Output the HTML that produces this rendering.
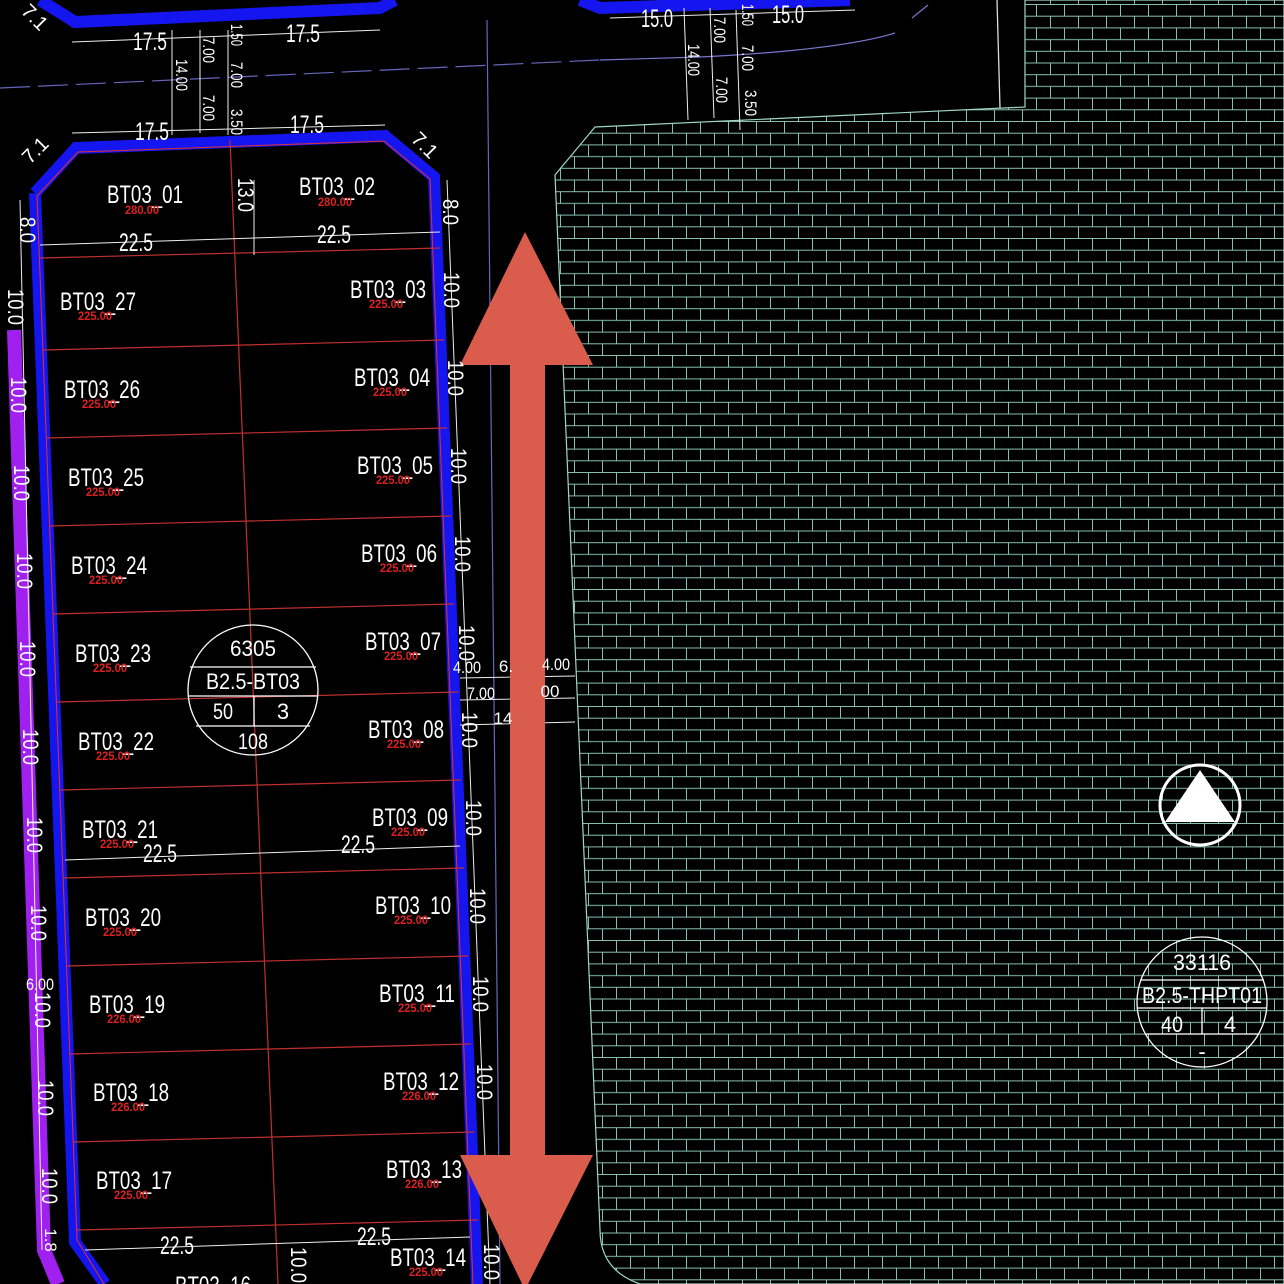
<!DOCTYPE html>
<html><head><meta charset="utf-8"><style>
html,body{margin:0;padding:0;background:#000;}
svg{display:block}
text{font-family:"Liberation Sans",sans-serif;}
</style></head><body>
<svg width="1284" height="1284" viewBox="0 0 1284 1284" xmlns="http://www.w3.org/2000/svg">
<defs>
<pattern id="brick" width="28" height="23.4" patternUnits="userSpaceOnUse" x="0" y="4">
<rect width="28" height="23.4" fill="#000"/>
<path d="M0 0.5H28 M0 12.2H28 M0.5 0V12.2 M14.5 12.2V23.4" stroke="#86bfae" stroke-width="1" fill="none"/>
</pattern>
</defs>
<rect width="1284" height="1284" fill="#000"/>
<path d="M595 127 L1025 107 L1025 0 L1284 0 L1284 1284 L640 1284 Q600 1270 600 1230 L555 175 Z" fill="url(#brick)" stroke="#9fd6c4" stroke-width="1.2"/>
<path d="M997 0 L1000 108" stroke="#ddd" stroke-width="1.3"/>
<path d="M600 60 L700 57 Q840 50 895 33" stroke="#7777cc" stroke-width="1.2" fill="none"/>
<path d="M912 18 L928 5" stroke="#7777cc" stroke-width="1.2" fill="none"/>
<path d="M0 88 L600 60" stroke="#6666bb" stroke-width="1.2" stroke-dasharray="30 8"/>
<path d="M487 20 L500 1284" stroke="#6666bb" stroke-width="1.2"/>
<path d="M14 330 L44 1250 L58 1284" stroke="#a020f0" stroke-width="14" fill="none"/>
<path d="M40 0 L75 22 L380 8 L395 0" stroke="#1515f0" stroke-width="12" fill="none"/>
<path d="M580 0 L600 8 L850 0" stroke="#1515f0" stroke-width="12" fill="none"/>
<path d="M35 193 L76 148 L385 136 L434 177 L477 1284 M35 193 L75 1242 L105 1284" stroke="#1515f0" stroke-width="12" fill="none"/>
<path d="M37 196 L78 152 L384 141 L430 179 L473 1284 M37 196 L77 1240 L104 1284" stroke="#e03030" stroke-width="1" fill="none"/>
<path d="M230 140 L278 1284" stroke="#c03030" stroke-width="1.2"/>
<g stroke="#c03030" stroke-width="1.2">
<path d="M40 258 L440 248"/><path d="M43 350 L444 340"/><path d="M46 438 L447 428"/>
<path d="M50 526 L451 516"/><path d="M53 614 L454 604"/><path d="M57 702 L458 692"/>
<path d="M60 790 L461 780"/><path d="M63 878 L464 868"/><path d="M67 966 L468 956"/>
<path d="M70 1054 L471 1044"/><path d="M73 1142 L474 1132"/><path d="M77 1230 L478 1220"/>
</g>
<g stroke="#eee" stroke-width="1" fill="none">
<path d="M72 42 L380 30"/><path d="M72 133 L385 125"/>
<path d="M40 245 L440 232"/><path d="M65 860 L460 846"/><path d="M85 1250 L470 1237"/>
<path d="M172 30 L172 135 M200 30 L200 133 M228 30 L228 135"/>
<path d="M610 18 L855 10"/>
<path d="M684 8 L688 120 M710 8 L714 118 M736 10 L740 130"/>
<path d="M20 200 L42 1250"/><path d="M447 180 L490 1284"/>
<path d="M460 678 L575 676 M460 700 L575 698 M460 725 L575 722"/>
<path d="M254 180 L254 255"/>
</g>
<path d="M525 232 L593 365 L545 365 L545 1155 L593 1155 L525 1290 L460 1155 L510 1155 L510 365 L460 365 Z" fill="#d95c4c"/>
<g fill="#fff" font-size="25" text-anchor="middle" lengthAdjust="spacingAndGlyphs">
<text x="150" y="50" textLength="34" lengthAdjust="spacingAndGlyphs">17.5</text><text x="303" y="42" textLength="34" lengthAdjust="spacingAndGlyphs">17.5</text>
<text x="152" y="140" textLength="34" lengthAdjust="spacingAndGlyphs">17.5</text><text x="307" y="133" textLength="34" lengthAdjust="spacingAndGlyphs">17.5</text>
<text x="657" y="27" textLength="32" lengthAdjust="spacingAndGlyphs">15.0</text><text x="788" y="23" textLength="32" lengthAdjust="spacingAndGlyphs">15.0</text>
<text x="136" y="251" textLength="34" lengthAdjust="spacingAndGlyphs">22.5</text><text x="334" y="243" textLength="34" lengthAdjust="spacingAndGlyphs">22.5</text>
<text x="160" y="862" textLength="34" lengthAdjust="spacingAndGlyphs">22.5</text><text x="358" y="853" textLength="34" lengthAdjust="spacingAndGlyphs">22.5</text>
<text x="177" y="1254" textLength="34" lengthAdjust="spacingAndGlyphs">22.5</text><text x="374" y="1245" textLength="34" lengthAdjust="spacingAndGlyphs">22.5</text>
</g>
<g fill="#fff" font-size="22" text-anchor="middle">
<text transform="translate(20,230) rotate(90)" textLength="26" lengthAdjust="spacingAndGlyphs">8.0</text>
<text transform="translate(443,212) rotate(90)" textLength="26" lengthAdjust="spacingAndGlyphs">8.0</text>
<text transform="translate(238,195) rotate(90)" textLength="34" lengthAdjust="spacingAndGlyphs">13.0</text>
<text transform="translate(8,307) rotate(90)" textLength="36" lengthAdjust="spacingAndGlyphs">10.0</text>
<text transform="translate(11,395) rotate(90)" textLength="36" lengthAdjust="spacingAndGlyphs">10.0</text>
<text transform="translate(14,483) rotate(90)" textLength="36" lengthAdjust="spacingAndGlyphs">10.0</text>
<text transform="translate(17,571) rotate(90)" textLength="36" lengthAdjust="spacingAndGlyphs">10.0</text>
<text transform="translate(20,659) rotate(90)" textLength="36" lengthAdjust="spacingAndGlyphs">10.0</text>
<text transform="translate(23,747) rotate(90)" textLength="36" lengthAdjust="spacingAndGlyphs">10.0</text>
<text transform="translate(27,835) rotate(90)" textLength="36" lengthAdjust="spacingAndGlyphs">10.0</text>
<text transform="translate(31,923) rotate(90)" textLength="36" lengthAdjust="spacingAndGlyphs">10.0</text>
<text transform="translate(35,1010) rotate(90)" textLength="36" lengthAdjust="spacingAndGlyphs">10.0</text>
<text transform="translate(38,1098) rotate(90)" textLength="36" lengthAdjust="spacingAndGlyphs">10.0</text>
<text transform="translate(42,1186) rotate(90)" textLength="36" lengthAdjust="spacingAndGlyphs">10.0</text>
<text transform="translate(444,290) rotate(90)" textLength="36" lengthAdjust="spacingAndGlyphs">10.0</text>
<text transform="translate(448,378) rotate(90)" textLength="36" lengthAdjust="spacingAndGlyphs">10.0</text>
<text transform="translate(451,466) rotate(90)" textLength="36" lengthAdjust="spacingAndGlyphs">10.0</text>
<text transform="translate(455,554) rotate(90)" textLength="36" lengthAdjust="spacingAndGlyphs">10.0</text>
<text transform="translate(459,643) rotate(90)" textLength="36" lengthAdjust="spacingAndGlyphs">10.0</text>
<text transform="translate(462,730) rotate(90)" textLength="36" lengthAdjust="spacingAndGlyphs">10.0</text>
<text transform="translate(466,818) rotate(90)" textLength="36" lengthAdjust="spacingAndGlyphs">10.0</text>
<text transform="translate(470,906) rotate(90)" textLength="36" lengthAdjust="spacingAndGlyphs">10.0</text>
<text transform="translate(473,994) rotate(90)" textLength="36" lengthAdjust="spacingAndGlyphs">10.0</text>
<text transform="translate(477,1082) rotate(90)" textLength="36" lengthAdjust="spacingAndGlyphs">10.0</text>
<text transform="translate(484,1262) rotate(90)" textLength="36" lengthAdjust="spacingAndGlyphs">10.0</text>
<text transform="translate(291,1265) rotate(90)" textLength="36" lengthAdjust="spacingAndGlyphs">10.0</text>
</g>
<g fill="#fff" font-size="17" text-anchor="middle">
<text transform="translate(176,75) rotate(90)" textLength="32" lengthAdjust="spacingAndGlyphs">14.00</text>
<text transform="translate(203,50) rotate(90)" textLength="26" lengthAdjust="spacingAndGlyphs">7.00</text>
<text transform="translate(203,108) rotate(90)" textLength="26" lengthAdjust="spacingAndGlyphs">7.00</text>
<text transform="translate(231,75) rotate(90)" textLength="26" lengthAdjust="spacingAndGlyphs">7.00</text>
<text transform="translate(231,35) rotate(90)" textLength="22" lengthAdjust="spacingAndGlyphs">1.50</text>
<text transform="translate(231,122) rotate(90)" textLength="26" lengthAdjust="spacingAndGlyphs">3.50</text>
<text transform="translate(688,60) rotate(90)" textLength="32" lengthAdjust="spacingAndGlyphs">14.00</text>
<text transform="translate(714,30) rotate(90)" textLength="26" lengthAdjust="spacingAndGlyphs">7.00</text>
<text transform="translate(716,90) rotate(90)" textLength="26" lengthAdjust="spacingAndGlyphs">7.00</text>
<text transform="translate(742,58) rotate(90)" textLength="26" lengthAdjust="spacingAndGlyphs">7.00</text>
<text transform="translate(742,15) rotate(90)" textLength="22" lengthAdjust="spacingAndGlyphs">1.50</text>
<text transform="translate(745,103) rotate(90)" textLength="26" lengthAdjust="spacingAndGlyphs">3.50</text>
<text x="467" y="673" textLength="28" lengthAdjust="spacingAndGlyphs">4.00</text><text x="506" y="672">6.</text><text x="556" y="670" textLength="28" lengthAdjust="spacingAndGlyphs">4.00</text>
<text x="481" y="699" textLength="28" lengthAdjust="spacingAndGlyphs">7.00</text><text x="550" y="697">00</text><text x="503" y="724">14</text>
<text x="40" y="990" textLength="28" lengthAdjust="spacingAndGlyphs">6.00</text>
<text transform="translate(45,1240) rotate(90)">1.8</text>
<text transform="translate(40,155) rotate(-45)" font-size="20">7.1</text>
<text transform="translate(420,150) rotate(45)" font-size="20">7.1</text>
<text transform="translate(30,22) rotate(45)" font-size="20">7.1</text>
</g>
<g fill="#fff" font-size="25">
<text x="107" y="203" textLength="76" lengthAdjust="spacingAndGlyphs">BT03_01</text><text x="299" y="195" textLength="76" lengthAdjust="spacingAndGlyphs">BT03_02</text>
<text x="60" y="310" textLength="76" lengthAdjust="spacingAndGlyphs">BT03_27</text><text x="350" y="298" textLength="76" lengthAdjust="spacingAndGlyphs">BT03_03</text>
<text x="64" y="398" textLength="76" lengthAdjust="spacingAndGlyphs">BT03_26</text><text x="354" y="386" textLength="76" lengthAdjust="spacingAndGlyphs">BT03_04</text>
<text x="68" y="486" textLength="76" lengthAdjust="spacingAndGlyphs">BT03_25</text><text x="357" y="474" textLength="76" lengthAdjust="spacingAndGlyphs">BT03_05</text>
<text x="71" y="574" textLength="76" lengthAdjust="spacingAndGlyphs">BT03_24</text><text x="361" y="562" textLength="76" lengthAdjust="spacingAndGlyphs">BT03_06</text>
<text x="75" y="662" textLength="76" lengthAdjust="spacingAndGlyphs">BT03_23</text><text x="365" y="650" textLength="76" lengthAdjust="spacingAndGlyphs">BT03_07</text>
<text x="78" y="750" textLength="76" lengthAdjust="spacingAndGlyphs">BT03_22</text><text x="368" y="738" textLength="76" lengthAdjust="spacingAndGlyphs">BT03_08</text>
<text x="82" y="838" textLength="76" lengthAdjust="spacingAndGlyphs">BT03_21</text><text x="372" y="826" textLength="76" lengthAdjust="spacingAndGlyphs">BT03_09</text>
<text x="85" y="926" textLength="76" lengthAdjust="spacingAndGlyphs">BT03_20</text><text x="375" y="914" textLength="76" lengthAdjust="spacingAndGlyphs">BT03_10</text>
<text x="89" y="1013" textLength="76" lengthAdjust="spacingAndGlyphs">BT03_19</text><text x="379" y="1002" textLength="76" lengthAdjust="spacingAndGlyphs">BT03_11</text>
<text x="93" y="1101" textLength="76" lengthAdjust="spacingAndGlyphs">BT03_18</text><text x="383" y="1090" textLength="76" lengthAdjust="spacingAndGlyphs">BT03_12</text>
<text x="96" y="1189" textLength="76" lengthAdjust="spacingAndGlyphs">BT03_17</text><text x="386" y="1178" textLength="76" lengthAdjust="spacingAndGlyphs">BT03_13</text>
<text x="390" y="1266" textLength="76" lengthAdjust="spacingAndGlyphs">BT03_14</text><text x="175" y="1294" textLength="76" lengthAdjust="spacingAndGlyphs">BT03_16</text>
</g>
<g fill="#e02020" font-size="12" font-weight="bold">
<text x="125" y="214" textLength="34" lengthAdjust="spacingAndGlyphs">280.00</text><text x="318" y="206" textLength="34" lengthAdjust="spacingAndGlyphs">280.00</text>
<text x="78" y="320" textLength="34" lengthAdjust="spacingAndGlyphs">225.00</text><text x="369" y="308" textLength="34" lengthAdjust="spacingAndGlyphs">225.00</text>
<text x="82" y="408" textLength="34" lengthAdjust="spacingAndGlyphs">225.00</text><text x="373" y="396" textLength="34" lengthAdjust="spacingAndGlyphs">225.00</text>
<text x="86" y="496" textLength="34" lengthAdjust="spacingAndGlyphs">225.00</text><text x="376" y="484" textLength="34" lengthAdjust="spacingAndGlyphs">225.00</text>
<text x="89" y="584" textLength="34" lengthAdjust="spacingAndGlyphs">225.00</text><text x="380" y="572" textLength="34" lengthAdjust="spacingAndGlyphs">225.00</text>
<text x="93" y="672" textLength="34" lengthAdjust="spacingAndGlyphs">225.00</text><text x="384" y="660" textLength="34" lengthAdjust="spacingAndGlyphs">225.00</text>
<text x="96" y="760" textLength="34" lengthAdjust="spacingAndGlyphs">225.00</text><text x="387" y="748" textLength="34" lengthAdjust="spacingAndGlyphs">225.00</text>
<text x="100" y="848" textLength="34" lengthAdjust="spacingAndGlyphs">225.00</text><text x="391" y="836" textLength="34" lengthAdjust="spacingAndGlyphs">225.00</text>
<text x="103" y="936" textLength="34" lengthAdjust="spacingAndGlyphs">225.00</text><text x="394" y="924" textLength="34" lengthAdjust="spacingAndGlyphs">225.00</text>
<text x="107" y="1023" textLength="34" lengthAdjust="spacingAndGlyphs">226.00</text><text x="398" y="1012" textLength="34" lengthAdjust="spacingAndGlyphs">225.00</text>
<text x="111" y="1111" textLength="34" lengthAdjust="spacingAndGlyphs">226.00</text><text x="402" y="1100" textLength="34" lengthAdjust="spacingAndGlyphs">226.00</text>
<text x="114" y="1199" textLength="34" lengthAdjust="spacingAndGlyphs">225.00</text><text x="405" y="1188" textLength="34" lengthAdjust="spacingAndGlyphs">226.00</text>
<text x="409" y="1276" textLength="34" lengthAdjust="spacingAndGlyphs">225.00</text>
</g>
<g stroke="#fff" stroke-width="1.3" fill="none">
<circle cx="253" cy="690" r="65"/>
<path d="M190 667 L316 667 M189 696 L318 696 M196 726 L310 726 M254 696 L254 726"/>
<circle cx="1202" cy="1002" r="65"/>
<path d="M1140 980 L1264 980 M1138 1008 L1266 1008 M1146 1034 L1258 1034 M1202 1008 L1202 1034"/>
<circle cx="1200" cy="805" r="40" stroke-width="3"/>
</g>
<path d="M1200 770 L1165 822 L1235 822 Z" fill="#fff"/>
<g fill="#fff" font-size="22" text-anchor="middle">
<text x="253" y="656" textLength="46" lengthAdjust="spacingAndGlyphs">6305</text>
<text x="253" y="689" textLength="94" lengthAdjust="spacingAndGlyphs">B2.5-BT03</text>
<text x="223" y="719" textLength="20" lengthAdjust="spacingAndGlyphs">50</text><text x="283" y="719">3</text>
<text x="253" y="749" textLength="30" lengthAdjust="spacingAndGlyphs">108</text>
<text x="1202" y="970" textLength="58" lengthAdjust="spacingAndGlyphs">33116</text>
<text x="1202" y="1003" textLength="120" lengthAdjust="spacingAndGlyphs">B2.5-THPT01</text>
<text x="1172" y="1032" textLength="22" lengthAdjust="spacingAndGlyphs">40</text><text x="1230" y="1032">4</text>
<text x="1202" y="1059">-</text>
</g>
</svg>
</body></html>
